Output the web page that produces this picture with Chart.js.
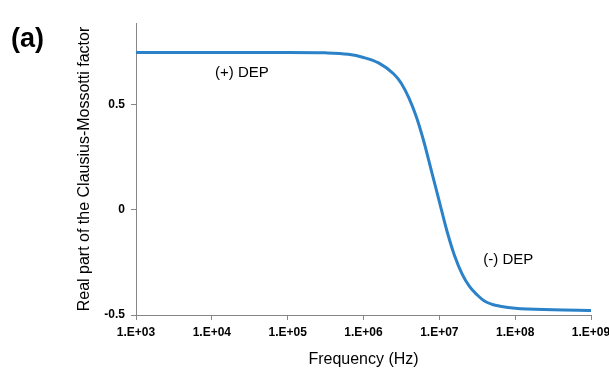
<!DOCTYPE html>
<html>
<head>
<meta charset="utf-8">
<script src="https://cdn.jsdelivr.net/npm/chart.js@4"></script>
<style>
  html, body { margin: 0; padding: 0; background: #fff; }
  #wrap { position: relative; width: 609px; height: 369px; }
  #panel { position: absolute; left: 11px; top: 23px; font: bold 27px "Liberation Sans", Arial, sans-serif; color: #000; }
</style>
</head>
<body>
<div id="wrap">
  <canvas id="grafico" width="609" height="369"></canvas>
  <div id="panel">(a)</div>
</div>
<script>
// frequency (Hz) and real part of the CM factor
const freqHz = [1e3, 3.16e3, 1e4, 3.16e4, 1e5, 3.16e5, 6.31e5, 1e6, 1.58e6, 2.51e6, 3.16e6, 3.98e6,
  5.01e6, 6.31e6, 7.94e6, 1e7, 1.26e7, 1.58e7, 2e7, 2.51e7, 3.16e7, 3.98e7, 5.01e7, 6.31e7,
  1e8, 3.16e8, 1e9];
const cmReal = [0.750, 0.750, 0.750, 0.750, 0.750, 0.748, 0.741, 0.726, 0.700, 0.647, 0.602, 0.532,
  0.440, 0.320, 0.180, 0.040, -0.100, -0.215, -0.305, -0.365, -0.405, -0.435, -0.450, -0.458,
  -0.468, -0.475, -0.478];
const xTicks = [1e3, 1e4, 1e5, 1e6, 1e7, 1e8, 1e9];
const xTickLabels = ['1.E+03', '1.E+04', '1.E+05', '1.E+06', '1.E+07', '1.E+08', '1.E+09'];
const yTicks = [-0.5, 0, 0.5];
const yTickLabels = ['-0.5', '0', '0.5'];
const notes = [
  { text: '(+) DEP', x: 1.1e4, y: 0.652 },
  { text: '(-) DEP', x: 3.8e7, y: -0.238 }
];

const fonte = '"Liberation Sans", Arial, sans-serif';
const eixo = '#868686';

const notasPlugin = {
  id: 'notas',
  afterDatasetsDraw(chart) {
    const c = chart.ctx;
    c.save();
    c.font = '15px ' + fonte;
    c.fillStyle = '#000';
    c.textBaseline = 'middle';
    c.textAlign = 'left';
    notes.forEach(n => {
      c.fillText(n.text, chart.scales.x.getPixelForValue(n.x), chart.scales.y.getPixelForValue(n.y));
    });
    c.restore();
  }
};

const ctx = document.getElementById('grafico').getContext('2d');
new Chart(ctx, {
  type: 'line',
  data: {
    datasets: [{
      data: freqHz.map((f, i) => ({ x: f, y: cmReal[i] })),
      borderColor: '#2b82c9',
      borderWidth: 3,
      pointRadius: 0,
      cubicInterpolationMode: 'monotone',
      fill: false
    }]
  },
  options: {
    responsive: false,
    animation: false,
    layout: { padding: { top: 23, right: 18, left: 0, bottom: 0 } },
    plugins: { legend: { display: false }, tooltip: { enabled: false } },
    scales: {
      x: {
        type: 'logarithmic',
        min: 1e3,
        max: 1e9,
        afterBuildTicks: s => { s.ticks = xTicks.map(v => ({ value: v })); },
        afterFit: s => { s.height = 54; s.paddingLeft = 0; s.paddingRight = 0; },
        grid: { display: true, drawOnChartArea: false, tickLength: 5, color: eixo },
        border: { color: eixo, width: 1 },
        ticks: {
          autoSkip: false,
          maxRotation: 0,
          padding: 5,
          color: '#000',
          font: { family: fonte, size: 12, weight: 'bold' },
          callback: (v) => xTickLabels[xTicks.indexOf(v)]
        },
        title: {
          display: true,
          text: 'Frequency (Hz)',
          color: '#000',
          font: { family: fonte, size: 16 },
          padding: { top: 0, bottom: 0 }
        }
      },
      y: {
        min: -0.5,
        max: 0.89,
        afterBuildTicks: s => { s.ticks = yTicks.map(v => ({ value: v })); },
        afterFit: s => { s.width = 136; },
        grid: { display: true, drawOnChartArea: false, tickLength: 5, color: eixo },
        border: { color: eixo, width: 1 },
        ticks: {
          padding: 6,
          color: '#000',
          font: { family: fonte, size: 12, weight: 'bold' },
          callback: (v) => yTickLabels[yTicks.indexOf(v)]
        },
        title: {
          display: true,
          text: 'Real part of the Clausius-Mossotti factor',
          color: '#000',
          font: { family: fonte, size: 16 },
          padding: { top: 75, bottom: 0 }
        }
      }
    }
  },
  plugins: [notasPlugin]
});
</script>
</body>
</html>
